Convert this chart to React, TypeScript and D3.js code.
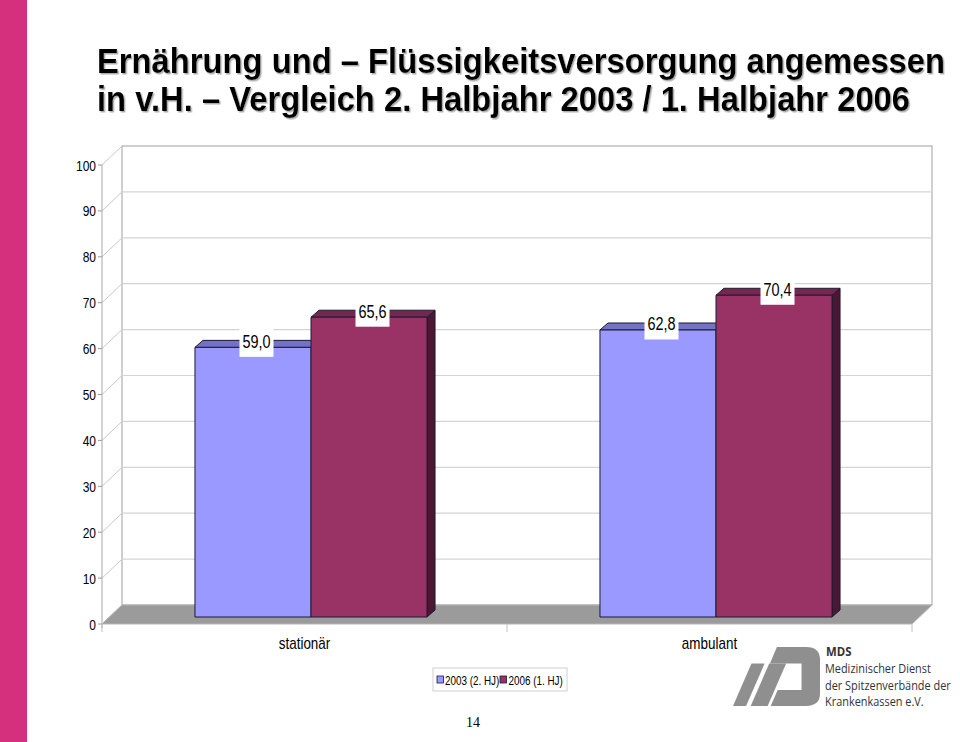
import React from "react";
import * as d3 from "d3";

const categories = ["stationär", "ambulant"];
const seriesNames = ["2003 (2. HJ)", "2006 (1. HJ)"];
const values2003 = [59.0, 62.8];
const values2006 = [65.6, 70.4];
const valueLabels2003 = ["59,0", "62,8"];
const valueLabels2006 = ["65,6", "70,4"];
const yTicks = [0, 10, 20, 30, 40, 50, 60, 70, 80, 90, 100];
const titleLines = [
  "Ernährung und – Flüssigkeitsversorgung angemessen",
  "in v.H. – Vergleich 2. Halbjahr 2003 / 1. Halbjahr 2006",
];
const logoLines = ["Medizinischer Dienst", "der Spitzenverbände der", "Krankenkassen e.V."];

const W = 960;
const H = 742;
const FONT = "'Liberation Sans', Arial, Helvetica, sans-serif";
const LOGO_FONT = "'Open Sans', 'Noto Sans', sans-serif";

// 3D layout
const X0 = 102;
const X1 = 912;
const WALL_DX = 20;
const WALL_DY = -19;
const BAR_SHIFT = 6.5;
const BAR_DX = 8;
const BAR_DY = -7;

const seriesStyle = [
  { front: "#9999FF", top: "#7373C6", side: "#4D4D88" },
  { front: "#993366", top: "#74284F", side: "#4A1832" },
];

function CText(props: {
  x: number;
  y: number;
  sx?: number;
  size: number;
  anchor?: string;
  weight?: string | number;
  fill?: string;
  family?: string;
  filter?: string;
  children: React.ReactNode;
}) {
  const { x, y, sx = 1, size, anchor = "start", weight = "normal", fill = "#000", family = FONT, filter } = props;
  return (
    <text
      transform={`translate(${x},${y}) scale(${sx},1)`}
      fontSize={size}
      fontFamily={family}
      fontWeight={weight}
      textAnchor={anchor}
      fill={fill}
      filter={filter}
    >
      {props.children}
    </text>
  );
}

export default function App() {
  const yF = d3.scaleLinear().domain([0, 100]).range([624, 165]);
  const yBar = d3.scaleLinear().domain([0, 100]).range([617, 160]);
  const xBand = d3.scaleBand<string>().domain(categories).range([X0, X1]);
  const groupW = xBand.bandwidth() * 0.573;
  const xInner = d3.scaleBand<string>().domain(seriesNames).range([0, groupW]);

  const series = [values2003, values2006];
  const labels = [valueLabels2003, valueLabels2006];

  const floorPts = [
    [X0, yF(0)],
    [X1, yF(0)],
    [X1 + WALL_DX, yF(0) + WALL_DY],
    [X0 + WALL_DX, yF(0) + WALL_DY],
  ];

  const bars: React.ReactNode[] = [];
  const barLabels: React.ReactNode[] = [];
  categories.forEach((cat, ci) => {
    const gx = (xBand(cat) as number) + (xBand.bandwidth() - groupW) / 2 + BAR_SHIFT;
    seriesNames.forEach((s, si) => {
      const v = series[si][ci];
      const x0 = gx + (xInner(s) as number);
      const x1 = x0 + xInner.bandwidth();
      const t = yBar(v);
      const b = yBar(0);
      const st = seriesStyle[si];
      const topPts = `${x0},${t} ${x1},${t} ${x1 + BAR_DX},${t + BAR_DY} ${x0 + BAR_DX},${t + BAR_DY}`;
      const sidePts = `${x1},${t} ${x1 + BAR_DX},${t + BAR_DY} ${x1 + BAR_DX},${b + BAR_DY} ${x1},${b}`;
      bars.push(
        <g key={`${cat}-${s}`} stroke="#1a1a33" strokeWidth={1} strokeLinejoin="round">
          <polygon points={sidePts} fill={st.side} />
          <polygon points={topPts} fill={st.top} />
          <rect x={x0} y={t} width={x1 - x0} height={b - t} fill={st.front} />
        </g>
      );
      const cx = (x0 + x1) / 2 + 3.5;
      const cy = t - 6.5;
      barLabels.push(
        <g key={`lbl-${cat}-${s}`}>
          <rect x={cx - 17} y={cy - 16} width={34} height={32} fill="#fff" />
          <CText x={cx} y={cy + 6.8} sx={0.76} size={19} anchor="middle">
            {labels[si][ci]}
          </CText>
        </g>
      );
    });
  });

  return (
    <svg
      width={W}
      height={H}
      viewBox={`0 0 ${W} ${H}`}
      style={{ position: "absolute", left: 0, top: 0, background: "#fff" }}
    >
      <defs>
        <filter id="titleShadow" x="-2%" y="-20%" width="104%" height="140%">
          <feDropShadow dx={1.5} dy={1.5} stdDeviation={0.4} floodColor="#999" floodOpacity={0.8} />
        </filter>
      </defs>
      <rect x={0} y={0} width={W} height={H} fill="#fff" />
      {/* pink side band */}
      <rect x={0} y={0} width={27} height={H} fill="#D5307D" />

      {/* title */}
      {titleLines.map((line, i) => (
        <CText
          key={`t${i}`}
          x={97}
          y={[73, 111][i]}
          sx={0.91}
          size={36}
          weight="bold"
          filter="url(#titleShadow)"
        >
          {line}
        </CText>
      ))}

      {/* back wall */}
      <rect
        x={X0 + WALL_DX}
        y={yF(100) + WALL_DY}
        width={X1 - X0}
        height={yF(0) - yF(100)}
        fill="#fff"
        stroke="#a0a0a0"
        strokeWidth={1}
      />
      {yTicks.map((t) => (
        <g key={`g${t}`}>
          {t > 0 && t < 100 && (
            <line
              x1={X0 + WALL_DX}
              x2={X1 + WALL_DX}
              y1={yF(t) + WALL_DY}
              y2={yF(t) + WALL_DY}
              stroke="#d4d4d4"
              strokeWidth={1.2}
            />
          )}
          <line
            x1={X0}
            x2={X0 + WALL_DX}
            y1={yF(t)}
            y2={yF(t) + WALL_DY}
            stroke="#c8c8c8"
            strokeWidth={1}
          />
          <line x1={X0 - 4} x2={X0} y1={yF(t)} y2={yF(t)} stroke="#999" strokeWidth={1} />
          <CText x={96} y={yF(t) + 5.5} sx={0.8} size={15} anchor="end">
            {t}
          </CText>
        </g>
      ))}
      {/* left side wall edges */}
      <line x1={X0} x2={X0} y1={yF(100)} y2={yF(0) + 4} stroke="#a8a8a8" strokeWidth={1} />

      {/* floor */}
      <polygon points={floorPts.map((p) => p.join(",")).join(" ")} fill="#9b9b9b" stroke="#b5b5b5" strokeWidth={1} />
      {[X0, X0 + xBand.bandwidth(), X1].map((x, i) => (
        <line key={`ct${i}`} x1={x} x2={x} y1={yF(0)} y2={yF(0) + 8} stroke="#c0c0c0" strokeWidth={1} />
      ))}

      {bars}
      {barLabels}

      {/* category labels */}
      {categories.map((c) => (
        <CText key={c} x={(xBand(c) as number) + xBand.bandwidth() / 2} y={649} sx={0.84} size={16} anchor="middle">
          {c}
        </CText>
      ))}

      {/* legend */}
      <rect x={433} y={668} width={134} height={23} fill="#fff" stroke="#cfcfcf" strokeWidth={1} />
      {seriesNames.map((s, i) => (
        <g key={`leg${i}`}>
          <rect x={[437, 500][i]} y={676} width={6.5} height={7} fill={seriesStyle[i].front} stroke="#1a1a33" strokeWidth={0.8} />
          <CText x={[445, 508.5][i]} y={684.5} sx={0.76} size={13}>
            {s}
          </CText>
        </g>
      ))}

      {/* page number */}
      <text x={473} y={727} fontSize={14} fontFamily="'Liberation Serif', 'Times New Roman', serif" textAnchor="middle" fill="#000">
        14
      </text>

      {/* MDS logo */}
      <g transform="translate(733,647) scale(0.385,0.353) translate(-62,-28)" fill="#8f8f8f">
        <polygon points="110,75 144,75 96,195 62,195" />
        <polygon points="156,75 200,75 152,195 108,195" />
        <path d="M176,28 L252,28 Q288,28 288,64 L288,160 Q288,195 252,195 L160,195 L178,150 L240,150 L240,75 L158,75 Z" />
      </g>
      <CText x={826} y={656} size={12} weight="bold" family={LOGO_FONT} fill="#333" sx={0.95}>
        MDS
      </CText>
      {logoLines.map((l, i) => (
        <CText key={`ml${i}`} x={825} y={673 + i * 16.5} size={13} sx={0.84} family={LOGO_FONT} fill="#333">
          {l}
        </CText>
      ))}
    </svg>
  );
}
